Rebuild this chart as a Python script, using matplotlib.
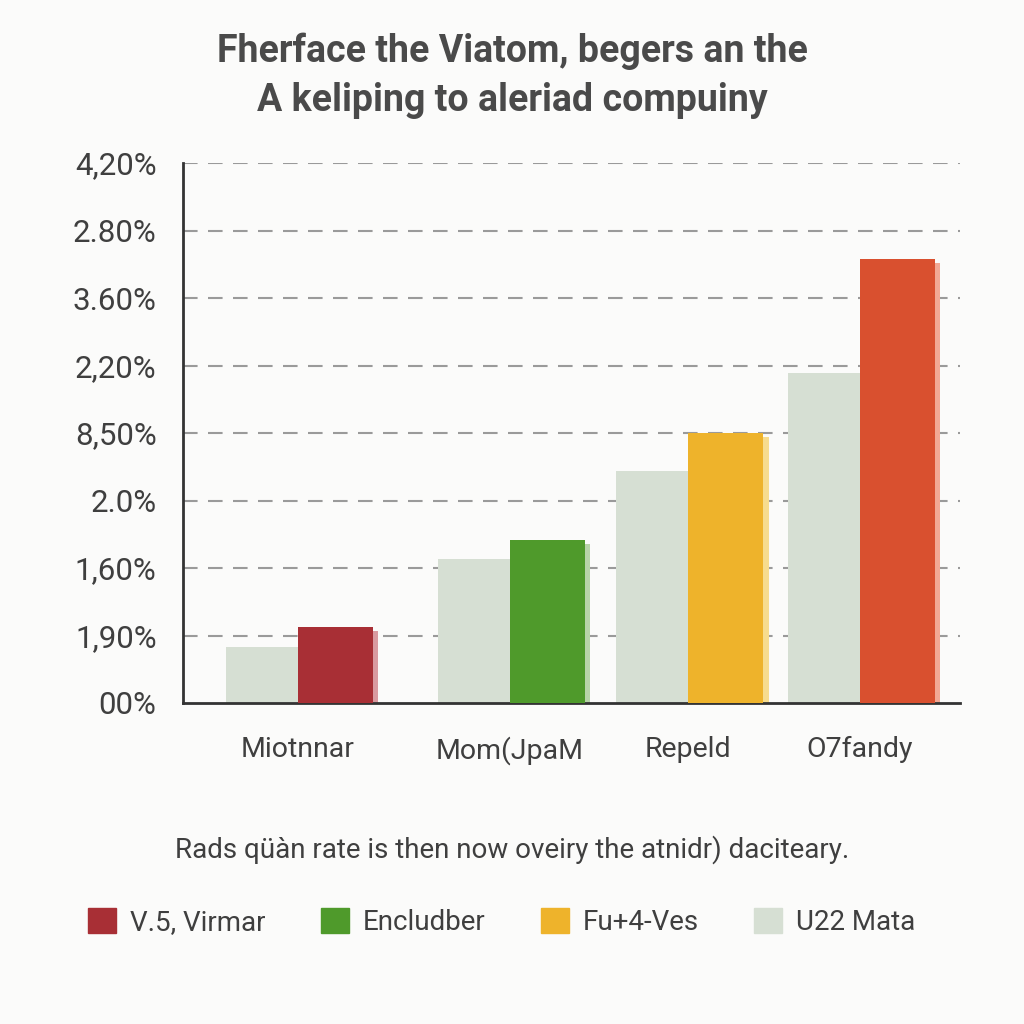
import matplotlib
matplotlib.use("Agg")
import matplotlib.pyplot as plt
from matplotlib.patches import Patch
import matplotlib.font_manager as fm

# ---------------- data ----------------
categories = ["Miotnnar", "Mom(JpaM", "Repeld", "O7fandy"]
baseline_values = [0.83, 2.13, 3.44, 4.89]       # light "U22 Mata" bars (grid units)
highlight_values = [1.13, 2.41, 4.00, 6.58]      # coloured bars (grid units)
ytick_labels = ["00%", "1,90%", "1,60%", "2.0%", "8,50%", "2,20%", "3.60%", "2.80%", "4,20%"]
legend_labels = ["V.5, Virmar", "Encludber", "Fu+4-Ves", "U22 Mata"]
title_text = "Fherface the Viatom, begers an the\nA keliping to aleriad compuiny"
caption_text = "Rads q\u00fc\u00e0n rate is then now oveiry the atnidr) daciteary."

# ---------------- style ----------------
avail = {f.name for f in fm.fontManager.ttflist}
fam = "Liberation Sans Narrow" if "Liberation Sans Narrow" in avail else "Roboto"
plt.rcParams['font.family'] = [fam, "DejaVu Sans"]

bg = "#fbfbfa"
light_col = "#d6dfd3"
hi_cols = ["#a82f35", "#4f9a2b", "#eeb32b", "#d9502f"]
shadow_cols = ["#d99aa0", "#b7d4a8", "#f7dc8e", "#f2a894"]
text_col = "#3f3f3f"

group_pos = [0.0, 1.134, 2.086, 3.005]
w_light = 0.385
w_hi = 0.40
w_sh = 0.03

fig = plt.figure(figsize=(10.24, 10.24), dpi=100, facecolor=bg)
ax = fig.add_axes([183/1024, 1-703/1024, (960-183)/1024, (703-163)/1024], facecolor=bg)

# grid
for i in range(1, 9):
    ax.axhline(i, color="#9a9a9a", lw=1.5, ls=(0, (7, 5)), zorder=0)

ax.bar([p - w_light/2 for p in group_pos], baseline_values, width=w_light,
       color=light_col, zorder=2)
ax.bar([p + w_hi/2 for p in group_pos], highlight_values, width=w_hi,
       color=hi_cols, zorder=3)
ax.bar([p + w_hi + w_sh/2 for p in group_pos], [v - 0.06 for v in highlight_values],
       width=w_sh, color=shadow_cols, zorder=2)

ax.set_xlim(-0.615, 3.54)
ax.set_ylim(0, 8)
ax.set_yticks(range(9))
ax.set_yticklabels(ytick_labels, fontsize=22.5, color=text_col)
ax.set_xticks(group_pos)
ax.set_xticklabels(categories, fontsize=20.5, color=text_col)
ax.tick_params(axis='y', length=0, pad=19)
ax.tick_params(axis='x', length=0, pad=24)
for s in ["top", "right"]:
    ax.spines[s].set_visible(False)
ax.spines["left"].set_color("#333333")
ax.spines["bottom"].set_color("#333333")
ax.spines["left"].set_linewidth(2)
ax.spines["bottom"].set_linewidth(2)

fig.text(0.5, 1-76/1024, title_text, ha="center", va="center", fontsize=27,
         fontweight="bold", color="#4a4a4a", linespacing=1.4)

fig.text(0.5, 1-850/1024, caption_text, ha="center", va="center", fontsize=20,
         color=text_col)

handles = [Patch(color=c) for c in hi_cols[:3]] + [Patch(color=light_col)]
fig.legend(handles, legend_labels, loc="center", bbox_to_anchor=(0.49, 1-922/1024),
           ncol=4, frameon=False, fontsize=20, handlelength=1.0, handleheight=1.0,
           columnspacing=2.0, handletextpad=0.5, labelcolor=text_col)

fig.savefig("out.png", dpi=100, facecolor=bg)
